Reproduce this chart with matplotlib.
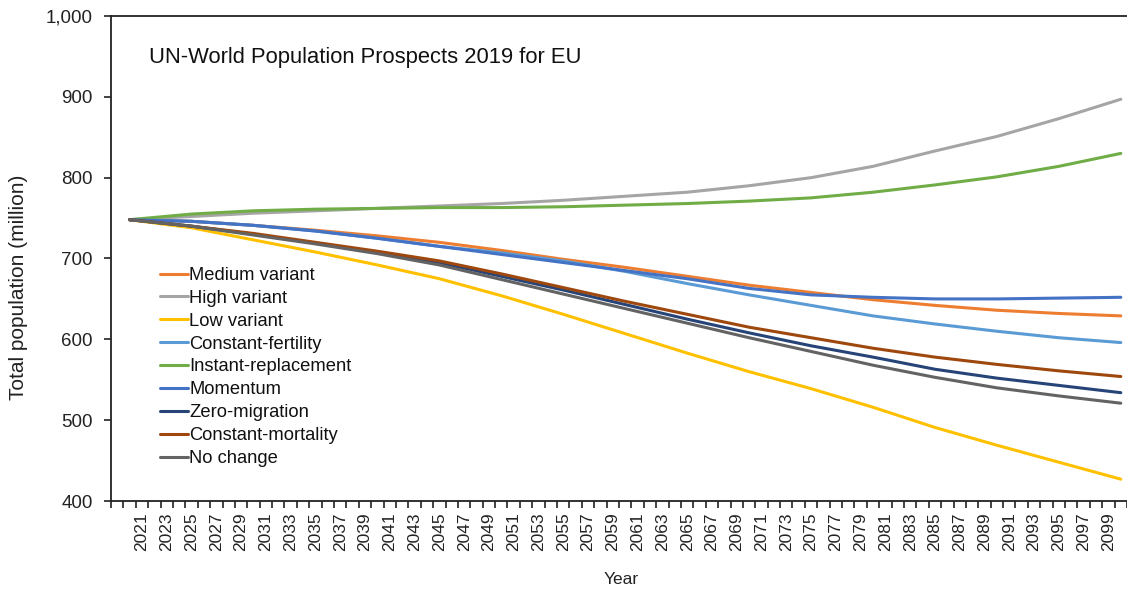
import matplotlib
matplotlib.use("Agg")
import matplotlib.pyplot as plt
from matplotlib.ticker import FuncFormatter, FixedLocator

plt.rcParams['font.family'] = ['Liberation Sans', 'DejaVu Sans']

# projection years (5-year steps) and totals in millions
years = [2020, 2025, 2030, 2035, 2040, 2045, 2050, 2055, 2060,
         2065, 2070, 2075, 2080, 2085, 2090, 2095, 2100]

medium = [748, 746, 741, 735, 728, 720, 710, 699, 689, 678, 667, 658, 649, 642, 636, 632, 629]
high = [748, 752, 756, 759, 762, 765, 768, 772, 777, 782, 790, 800, 814, 833, 851, 873, 897]
low = [748, 738, 723, 708, 692, 675, 654, 631, 607, 583, 560, 539, 516, 491, 469, 448, 427]
const_fertility = [748, 746, 741, 734, 725, 715, 707, 697, 684, 669, 655, 642, 629, 619, 610, 602, 596]
instant_repl = [748, 755, 759, 761, 762, 763, 763, 764, 766, 768, 771, 775, 782, 791, 801, 814, 830]
momentum = [748, 746, 741, 734, 725, 715, 705, 695, 685, 675, 663, 655, 652, 650, 650, 651, 652]
zero_migration = [748, 740, 730, 719, 707, 695, 678, 661, 643, 625, 608, 592, 578, 563, 552, 543, 534]
const_mortality = [748, 740, 731, 720, 709, 697, 681, 664, 647, 631, 615, 602, 589, 578, 569, 561, 554]
no_change = [748, 740, 729, 718, 706, 692, 674, 656, 638, 620, 602, 585, 568, 553, 540, 530, 521]

series = [
    ("Medium variant", medium, "#ED7D31"),
    ("High variant", high, "#A5A5A5"),
    ("Low variant", low, "#FFC000"),
    ("Constant-fertility", const_fertility, "#5B9BD5"),
    ("Instant-replacement", instant_repl, "#70AD47"),
    ("Momentum", momentum, "#4472C4"),
    ("Zero-migration", zero_migration, "#264478"),
    ("Constant-mortality", const_mortality, "#9E480E"),
    ("No change", no_change, "#636363"),
]

fig = plt.figure(figsize=(11.27, 5.92), dpi=100)
ax = fig.add_axes([0.0985, 0.1537, 0.9015, 0.8193])

for name, vals, col in series:
    ax.plot(years, vals, color=col, lw=2.2, label=name, solid_capstyle='round')

ax.set_xlim(2018.5, 2100.5)
ax.set_ylim(400, 1000)

# one tick mark per year, labels on every other year
ax.xaxis.set_major_locator(FixedLocator([y + 0.5 for y in range(2018, 2101)]))
ax.xaxis.set_major_formatter(FuncFormatter(lambda v, p: ""))
ax.xaxis.set_minor_locator(FixedLocator(list(range(2021, 2100, 2))))
ax.xaxis.set_minor_formatter(FuncFormatter(lambda v, p: f"{int(round(v))}"))
ax.tick_params(axis='x', which='major', direction='out', length=5, width=1.2, color='#222222')
ax.tick_params(axis='x', which='minor', length=0, labelsize=12.5, labelrotation=90, pad=8,
               labelcolor='#222222')

ax.set_yticks(range(400, 1001, 100))
ax.yaxis.set_major_formatter(FuncFormatter(lambda v, p: f"{int(v):,}"))
ax.tick_params(axis='y', direction='out', length=5, width=1.2, labelsize=13.5, pad=8,
               color='#222222', labelcolor='#222222')

for s in ['left', 'bottom', 'top']:
    ax.spines[s].set_linewidth(1.3)
    ax.spines[s].set_color('#222222')
ax.spines['right'].set_visible(False)

fig.text(621 / 1127, 1 - 579 / 592, "Year", fontsize=12.5, ha='center', va='center', color='#222222')
fig.text(19 / 1127, 1 - 287 / 592, "Total population (million)", fontsize=15, rotation=90,
         ha='center', va='center', color='#222222')

ax.text(0.037, 0.914, "UN-World Population Prospects 2019 for EU", transform=ax.transAxes,
        fontsize=15.8, ha='left', va='center', color='#111111')

fig.legend(loc='upper left', bbox_to_anchor=(0.142, 0.549), frameon=False, fontsize=13.2,
           handlelength=1.5, handletextpad=0.08, labelspacing=0.32, borderpad=0, borderaxespad=0,
           labelcolor='#111111')

fig.savefig("out.png", dpi=100)
